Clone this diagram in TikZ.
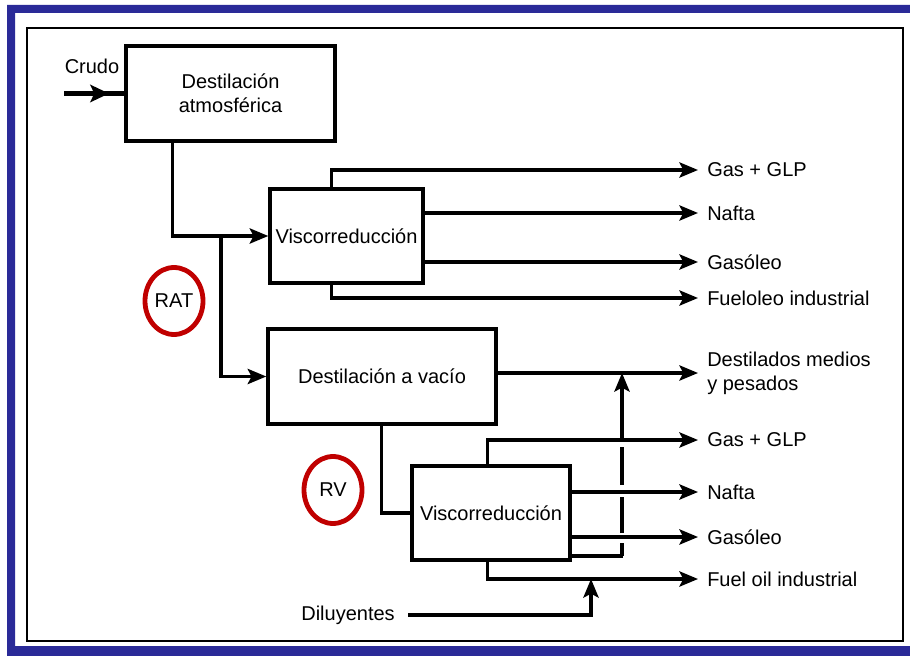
\documentclass[tikz,border=0pt]{standalone}
\usepackage{fontspec}
\setmainfont{Liberation Sans}
\usetikzlibrary{arrows.meta,calc,shapes.geometric}
\definecolor{frameblue}{RGB}{42,42,152}
\definecolor{circred}{RGB}{192,0,0}
\begin{document}
\begin{tikzpicture}[x=0.75pt,y=-0.75pt,
  font=\fontsize{15}{18}\selectfont,
  procbox/.style={draw, line width=2.6pt, inner sep=0pt, align=center},
  conn/.style={line width=2.3pt, line join=miter},
  tip/.style={-{Stealth[length=14pt,width=11.5pt,inset=3pt]}},
  flow/.style={conn, tip},
  outlabel/.style={anchor=west, inner xsep=6.75pt, inner ysep=0pt, align=left},
  circmark/.style={ellipse, draw=circred, line width=3.6pt, inner sep=0pt,
    minimum width=58*0.75pt, minimum height=67*0.75pt}
]
\useasboundingbox (0,0) rectangle (910,656);
\clip (0,0) rectangle (910,656);
% frames
\fill[frameblue, even odd rule] (7,5) rectangle (930,670) (15,13) rectangle (930,646);
\draw[line width=1.2pt] (27,28) rectangle (903,641);

% process boxes
\node[procbox, minimum width=209*0.75pt, minimum height=95*0.75pt] (atm) at (230.5,93.5) {Destilación\\atmosférica};
\node[procbox, minimum width=153*0.75pt, minimum height=94*0.75pt] (vr1) at (346.5,236) {Viscorreducción};
\node[procbox, minimum width=228*0.75pt, minimum height=95*0.75pt] (vac) at (382,376.5) {Destilación a vacío};
\node[procbox, minimum width=158*0.75pt, minimum height=94*0.75pt] (vr2) at (491,513) {Viscorreducción};

% labels
\node (crudo) at (92,66) {Crudo};
\node[outlabel] (g1) at (698,170) {Gas + GLP};
\node[outlabel] (n1) at (698,213) {Nafta};
\node[outlabel] (o1) at (698,262) {Gasóleo};
\node[outlabel] (f1) at (698,298) {Fueloleo industrial};
\node[outlabel] (dm) at (698,373) {Destilados medios\\y pesados};
\node[outlabel] (g2) at (698,440) {Gas + GLP};
\node[outlabel] (n2) at (698,492) {Nafta};
\node[outlabel] (o2) at (698,537) {Gasóleo};
\node[outlabel] (f2) at (698,579) {Fuel oil industrial};
\node[anchor=east, inner xsep=9.75pt, inner ysep=0pt] (dil) at (408,615) {Diluyentes};

% marks
\node[circmark] (rat) at (174,301) {RAT};
\node[circmark] (rv) at (333,490) {RV};

% connectors
\coordinate (crin) at (64,93.5);
\draw[conn, line width=3.4pt] (crin) -- (atm.west);
\draw[conn, line width=3.4pt, -{Stealth[length=14pt,width=13pt,inset=3pt]}] (crin) -- ++(45,0);
\coordinate (j1) at (221,236);
\draw[flow] ($(atm.south west)+(48,0)$) |- (vr1.west);
\draw[flow] (j1) |- (vac.west);

\draw[flow] ($(vr1.north west)+(63,0)$) |- (g1.west);
\draw[flow] (vr1.east |- n1.west) -- (n1.west);
\draw[flow] (vr1.east |- o1.west) -- (o1.west);
\draw[flow] ($(vr1.south west)+(63,0)$) |- (f1.west);

\draw[flow] (vac.east |- dm.west) -- (dm.west);
\draw[conn] ($(vac.south west)+(115,0)$) |- (vr2.west);

\draw[flow] ($(vr2.north west)+(77,0)$) |- (g2.west);
\draw[flow] (vr2.east |- n2.west) -- (n2.west);
\draw[flow] (vr2.east |- o2.west) -- (o2.west);
\coordinate (rc) at (622,556);
\draw[conn] (vr2.east |- rc) -- ([xshift=0.86pt]rc);
\draw[flow, dash pattern=on 9.75pt off 7.5pt on 27pt off 9pt on 28.5pt off 6pt on 60pt] (rc) -- (rc |- dm.west);
\draw[flow] ($(vr2.south west)+(77,0)$) |- (f2.west);
\coordinate (dj) at (591,579);
\draw[flow] (dil.east) -| (dj);
\end{tikzpicture}
\end{document}
